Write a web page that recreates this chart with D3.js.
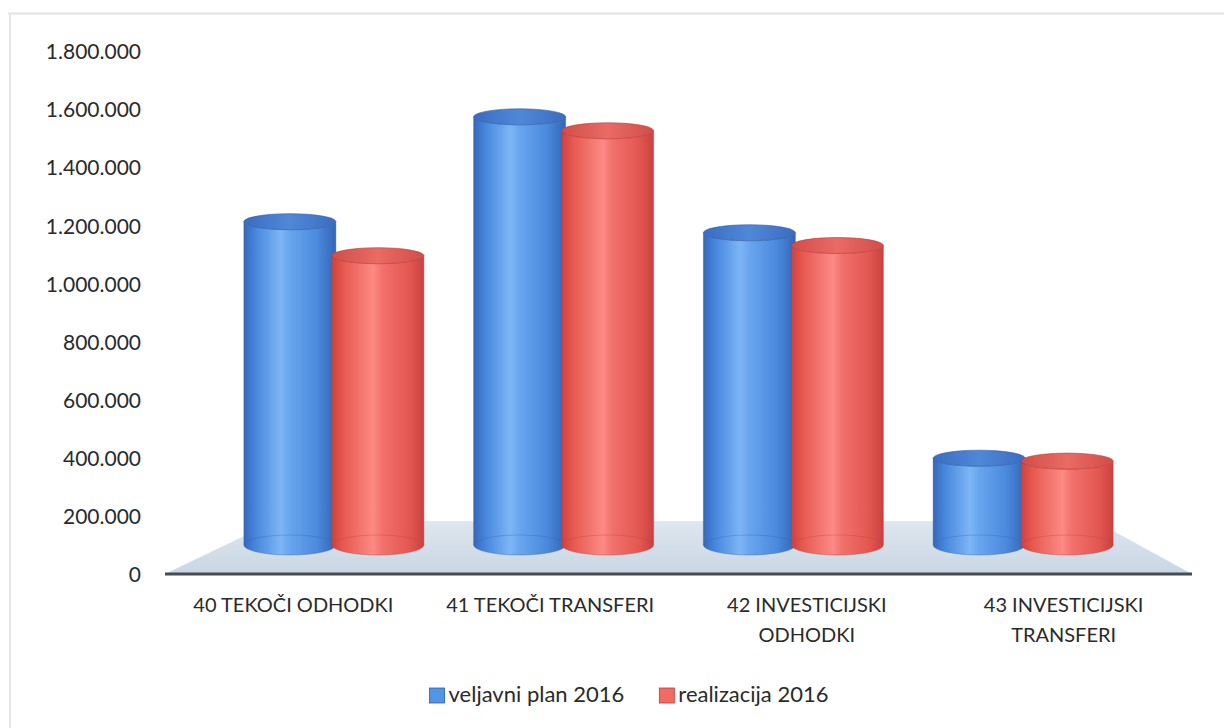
<!DOCTYPE html>
<html>
<head>
<meta charset="utf-8">
<script src="https://cdn.jsdelivr.net/npm/d3@7"></script>
<style>
  html, body { margin: 0; padding: 0; background: #fff; }
  svg { display: block; }
  text { font-family: Lato, "Open Sans", sans-serif; fill: #2a2a2a; }
</style>
</head>
<body>
<svg id="chart" width="1224" height="728"></svg>
<script>
// ---- data ----
const categories = ["40 TEKOČI ODHODKI", "41 TEKOČI TRANSFERI", "42 INVESTICIJSKI ODHODKI", "43 INVESTICIJSKI TRANSFERI"];
const categoryLines = [["40 TEKOČI ODHODKI"], ["41 TEKOČI TRANSFERI"], ["42 INVESTICIJSKI", "ODHODKI"], ["43 INVESTICIJSKI", "TRANSFERI"]];
const seriesNames = ["veljavni plan 2016", "realizacija 2016"];
const planValues = [1216000, 1577000, 1178000, 402000];
const realValues = [1099000, 1529000, 1134000, 392000];
const tickValues = [0, 200000, 400000, 600000, 800000, 1000000, 1200000, 1400000, 1600000, 1800000];

// ---- setup ----
const svg = d3.select("#chart");
const W = 1224, H = 728;
svg.append("rect").attr("width", W).attr("height", H).attr("fill", "#fff");
// faint scan border
svg.append("line").attr("x1", 8).attr("x2", W).attr("y1", 13.5).attr("y2", 13.5).attr("stroke", "#e2e2e2").attr("stroke-width", 2);
svg.append("line").attr("x1", 10).attr("x2", 10).attr("y1", 13).attr("y2", H).attr("stroke", "#e6e6e6").attr("stroke-width", 2);

const slLocale = d3.formatLocale({ decimal: ",", thousands: ".", grouping: [3], currency: ["", " €"] });
const fmt = slLocale.format(",d");

const y = d3.scaleLinear().domain([0, 1800000]).range([575, 52]);
const xFront = d3.scaleBand().domain(categories).range([165, 1192]);
const xBars = d3.scaleBand().domain(categories).range([219, 1138]);
const xSeries = d3.scaleBand().domain(seriesNames).range([-88, 88]);

const floorFrontY = 574, floorBackY = 521;
const backX = [275, 1095];
const baseY = 545, ryBottom = 10, ryTop = 8, radius = 46;

// ---- defs ----
const defs = svg.append("defs");
const floorGrad = defs.append("linearGradient").attr("id", "floorGrad").attr("x1", 0).attr("y1", 0).attr("x2", 0).attr("y2", 1);
floorGrad.append("stop").attr("offset", "0%").attr("stop-color", "#dfe7ef");
floorGrad.append("stop").attr("offset", "100%").attr("stop-color", "#c8d6e4");

function bodyGrad(id, stops) {
  const g = defs.append("linearGradient").attr("id", id).attr("x1", 0).attr("y1", 0).attr("x2", 1).attr("y2", 0);
  stops.forEach(([o, c]) => g.append("stop").attr("offset", o).attr("stop-color", c));
}
bodyGrad("blueBody", [["0%", "#3567b9"], ["12%", "#4685db"], ["40%", "#7cb6f6"], ["50%", "#69a5ee"], ["80%", "#4a89dd"], ["100%", "#3565b6"]]);
bodyGrad("redBody", [["0%", "#cc4240"], ["12%", "#e6584f"], ["45%", "#fd8a84"], ["55%", "#f2716b"], ["85%", "#e35650"], ["100%", "#c94140"]]);
bodyGrad("blueTop", [["0%", "#3a6cc0"], ["50%", "#5088d8"], ["100%", "#3a6cc0"]]);
bodyGrad("redTop", [["0%", "#d24d49"], ["50%", "#ea6a64"], ["100%", "#d24d49"]]);

const colorIds = { "veljavni plan 2016": ["blueBody", "blueTop", "#2f5ea8", "#5294e6"],
                   "realizacija 2016":   ["redBody", "redTop", "#bb3a38", "#f26a64"] };

// ---- floor ----
svg.append("path")
  .attr("d", `M${xFront.range()[0]},${floorFrontY} L${xFront.range()[1]},${floorFrontY} L${backX[1]},${floorBackY} L${backX[0]},${floorBackY} Z`)
  .attr("fill", "url(#floorGrad)");
svg.append("line")
  .attr("x1", xFront.range()[0]).attr("x2", xFront.range()[1])
  .attr("y1", floorFrontY).attr("y2", floorFrontY)
  .attr("stroke", "#464a52").attr("stroke-width", 3);

// ---- y axis ----
const yAxis = d3.axisLeft(y).tickValues(tickValues).tickFormat(fmt).tickSize(0).tickPadding(0);
const gy = svg.append("g").attr("transform", "translate(141,0)").call(yAxis);
gy.select(".domain").remove();
gy.selectAll("text").style("font-family", "Lato, sans-serif").style("font-size", "21px").attr("fill", "#2a2a2a");

// ---- cylinders ----
const rows = categories.map((c, i) => ({ cat: c, values: [
  { s: seriesNames[0], v: planValues[i] },
  { s: seriesNames[1], v: realValues[i] } ] }));

const groups = svg.append("g").selectAll("g.cat").data(rows).join("g")
  .attr("class", "cat")
  .attr("transform", d => `translate(${xBars(d.cat) + xBars.bandwidth() / 2},0)`);

groups.selectAll("g.cyl").data(d => d.values).join("g").attr("class", "cyl").each(function (d) {
  const g = d3.select(this);
  const cx = xSeries(d.s) + xSeries.bandwidth() / 2;
  const yt = y(d.v);
  const [bodyId, topId, edge] = colorIds[d.s];
  const l = cx - radius, r = cx + radius;
  g.append("path")
    .attr("d", `M${l},${yt} L${l},${baseY} A${radius},${ryBottom} 0 0 0 ${r},${baseY} L${r},${yt} A${radius},${ryTop} 0 0 1 ${l},${yt} Z`)
    .attr("fill", `url(#${bodyId})`)
    .attr("stroke", edge).attr("stroke-width", 0.8).attr("stroke-opacity", 0.5);
  // faint back edge of bottom ellipse (translucent look)
  g.append("path")
    .attr("d", `M${l},${baseY} A${radius},${ryBottom} 0 0 1 ${r},${baseY}`)
    .attr("fill", "none").attr("stroke", edge).attr("stroke-opacity", 0.3).attr("stroke-width", 1);
  // top cap
  g.append("ellipse")
    .attr("cx", cx).attr("cy", yt).attr("rx", radius).attr("ry", ryTop)
    .attr("fill", `url(#${topId})`)
    .attr("stroke", edge).attr("stroke-width", 1).attr("stroke-opacity", 0.6);
});

// ---- category labels ----
const gx = svg.append("g");
categories.forEach((c, i) => {
  const cx = xFront(c) + xFront.bandwidth() / 2;
  const t = gx.append("text").attr("text-anchor", "middle").style("font-size", "20px");
  categoryLines[i].forEach((line, j) => {
    t.append("tspan").attr("x", cx).attr("y", 612 + j * 30).text(line);
  });
});

// ---- legend ----
const legend = svg.append("g");
const items = legend.selectAll("g").data(seriesNames).join("g");
items.append("rect").attr("width", 15).attr("height", 15).attr("y", 688)
  .attr("fill", d => colorIds[d][3]).attr("stroke", d => colorIds[d][2]).attr("stroke-width", 0.8);
items.append("text").attr("x", 19).attr("y", 702).style("font-size", "22px").text(d => d);
const widths = [];
items.each(function () { widths.push(d3.select(this).select("text").node().getComputedTextLength() + 19); });
const gap = 35;
const total = widths[0] + widths[1] + gap;
let xpos = 629 - total / 2;
items.each(function (d, i) {
  d3.select(this).attr("transform", `translate(${xpos},0)`);
  xpos += widths[i] + gap;
});
</script>
</body>
</html>
